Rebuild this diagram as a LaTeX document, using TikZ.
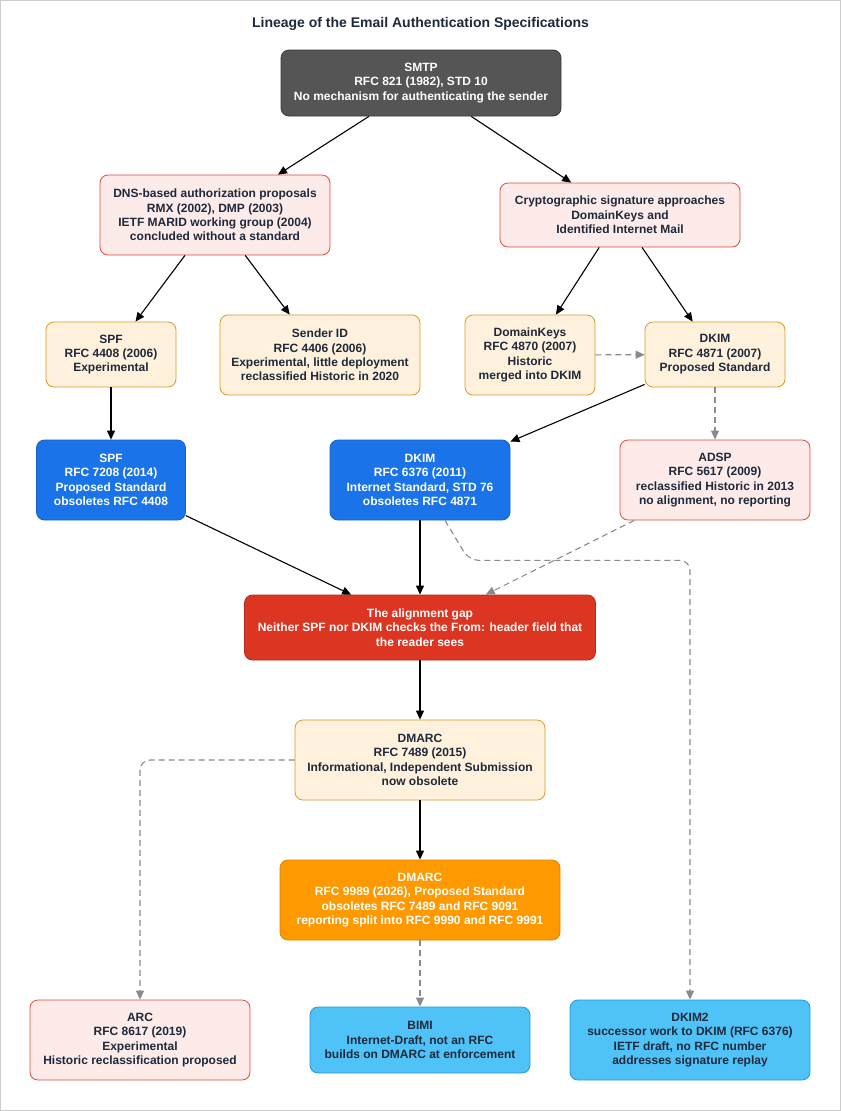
\documentclass[tikz,border=0pt]{standalone}
\usepackage{fontspec}
\setmainfont{Liberation Sans}
\usetikzlibrary{arrows.meta}

\definecolor{ink}{HTML}{1E293B}
\definecolor{smtpfill}{HTML}{555555}
\definecolor{smtpline}{HTML}{3A3A3A}
\definecolor{redfill}{HTML}{FDEBEA}
\definecolor{redline}{HTML}{E04B3A}
\definecolor{creamfill}{HTML}{FFF1DC}
\definecolor{creamline}{HTML}{D89A2B}
\definecolor{bluefill}{HTML}{1A73E8}
\definecolor{blueline}{HTML}{1662C4}
\definecolor{gapfill}{HTML}{DC3522}
\definecolor{gapline}{HTML}{B52B1B}
\definecolor{orangefill}{HTML}{FF9900}
\definecolor{orangeline}{HTML}{D98200}
\definecolor{skyfill}{HTML}{4FC3F7}
\definecolor{skyline}{HTML}{2196D8}
\definecolor{arrgray}{HTML}{8A8A8A}

\begin{document}
\begin{tikzpicture}[x=1pt,y=-1pt,
    box/.style={rounded corners=8pt, align=center, inner sep=0pt, line width=0.8pt,
      font=\bfseries\fontsize{12}{14.4}\selectfont, text=ink},
    darkbox/.style={box, fill=smtpfill, draw=smtpline, text=white},
    redbox/.style={box, fill=redfill, draw=redline},
    creambox/.style={box, fill=creamfill, draw=creamline},
    bluebox/.style={box, fill=bluefill, draw=blueline, text=white},
    gapbox/.style={box, fill=gapfill, draw=gapline, text=white},
    orangebox/.style={box, fill=orangefill, draw=orangeline, text=white},
    skybox/.style={box, fill=skyfill, draw=skyline},
    arr/.style={-{Triangle[length=9pt,width=8pt]}, line width=1.1pt},
    dsh/.style={arr, draw=arrgray, dash pattern=on 6pt off 4pt}]

    \useasboundingbox (0,0) rectangle (841,1111);
    \draw[gray!40] (0.5,0.5) rectangle (840.5,1110.5);
    \node[font=\bfseries\fontsize{14}{16}\selectfont, text=ink] (title) at (420.5,24) {Lineage of the Email Authentication Specifications};

    % origin
    \node[darkbox, minimum width=280pt, minimum height=66pt] (smtp) at (421,83) {SMTP\\RFC 821 (1982), STD 10\\No mechanism for authenticating the sender};

    % two families
    \node[redbox, minimum width=230pt, minimum height=80pt] (dns) at (215,215) {DNS-based authorization proposals\\RMX (2002), DMP (2003)\\IETF MARID working group (2004)\\concluded without a standard};
    \node[redbox, minimum width=240pt, minimum height=64pt] (crypto) at (620,215) {Cryptographic signature approaches\\DomainKeys and\\Identified Internet Mail};

    % first RFCs
    \node[creambox, minimum width=130pt, minimum height=65pt] (spfA) at (111,354.5) {SPF\\RFC 4408 (2006)\\Experimental};
    \node[creambox, minimum width=200pt, minimum height=80pt] (senderid) at (320,355) {Sender ID\\RFC 4406 (2006)\\Experimental, little deployment\\reclassified Historic in 2020};
    \node[creambox, minimum width=130pt, minimum height=80pt] (dkeys) at (530,355) {DomainKeys\\RFC 4870 (2007)\\Historic\\merged into DKIM};
    \node[creambox, minimum width=140pt, minimum height=65pt] (dkimA) at (715,354.5) {DKIM\\RFC 4871 (2007)\\Proposed Standard};

    % current standards
    \node[bluebox, minimum width=149pt, minimum height=80pt] (spfB) at (111,480) {SPF\\RFC 7208 (2014)\\Proposed Standard\\obsoletes RFC 4408};
    \node[bluebox, minimum width=180pt, minimum height=80pt] (dkimB) at (420,480) {DKIM\\RFC 6376 (2011)\\Internet Standard, STD 76\\obsoletes RFC 4871};
    \node[redbox, minimum width=190pt, minimum height=80pt] (adsp) at (715,480) {ADSP\\RFC 5617 (2009)\\reclassified Historic in 2013\\no alignment, no reporting};

    \node[gapbox, minimum width=351pt, minimum height=65pt] (gap) at (420,627.5) {The alignment gap\\Neither SPF nor DKIM checks the From: header field that\\the reader sees};

    \node[creambox, minimum width=250pt, minimum height=80pt] (dmarcA) at (420,760) {DMARC\\RFC 7489 (2015)\\Informational, Independent Submission\\now obsolete};
    \node[orangebox, minimum width=280pt, minimum height=80pt] (dmarcB) at (420,900) {DMARC\\RFC 9989 (2026), Proposed Standard\\obsoletes RFC 7489 and RFC 9091\\reporting split into RFC 9990 and RFC 9991};

    % later work
    \node[redbox, minimum width=220pt, minimum height=80pt] (arc) at (140,1040) {ARC\\RFC 8617 (2019)\\Experimental\\Historic reclassification proposed};
    \node[skybox, minimum width=220pt, minimum height=66pt] (bimi) at (420,1040) {BIMI\\Internet-Draft, not an RFC\\builds on DMARC at enforcement};
    \node[skybox, minimum width=240pt, minimum height=80pt] (dkimtwo) at (690,1040) {DKIM2\\successor work to DKIM (RFC 6376)\\IETF draft, no RFC number\\addresses signature replay};

    % lineage
    \draw[arr] (smtp) -- (dns);
    \draw[arr] (smtp) -- (crypto);
    \draw[arr] (dns) -- (spfA);
    \draw[arr] (dns) -- (senderid);
    \draw[arr] (crypto) -- (dkeys);
    \draw[arr] (crypto) -- (dkimA);
    \draw[dsh] (dkeys) -- (dkimA);
    \draw[arr] (spfA) -- (spfB);
    \draw[arr] (dkimA) -- (dkimB);
    \draw[dsh] (dkimA) -- (adsp);
    \draw[arr] (spfB) -- (gap);
    \draw[arr] (dkimB) -- (gap);
    \draw[dsh] (adsp) -- (gap);
    \draw[dsh, rounded corners=10pt] ([xshift=25pt]dkimB.south) -- ++(24,40) -| (dkimtwo.north);
    \draw[arr] (gap) -- (dmarcA);
    \draw[arr] (dmarcA) -- (dmarcB);
    \draw[dsh, rounded corners=10pt] (dmarcA.west) -| (arc.north);
    \draw[dsh] (dmarcB) -- (bimi);
\end{tikzpicture}
\end{document}
